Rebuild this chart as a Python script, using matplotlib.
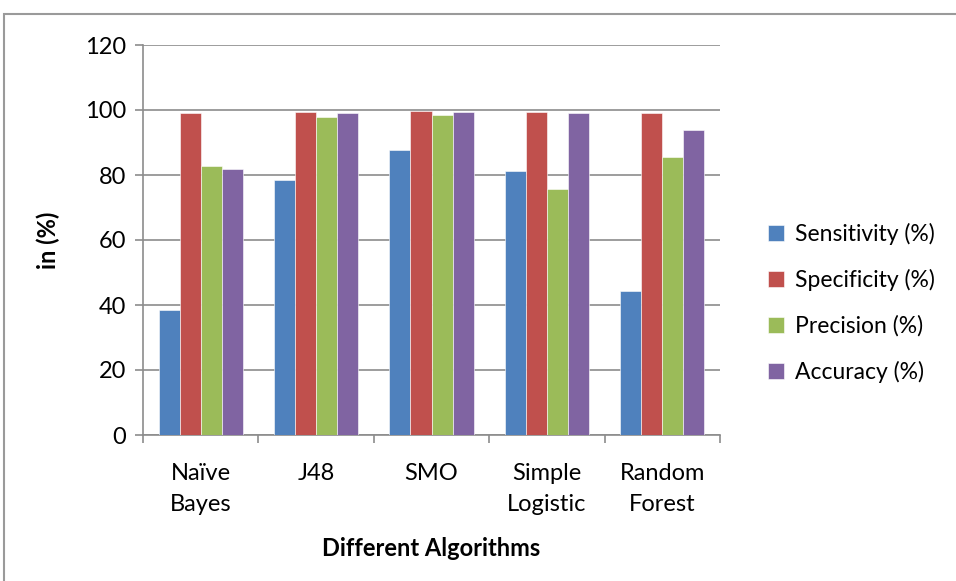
import matplotlib
matplotlib.use('agg')
import matplotlib.pyplot as plt
import numpy as np
from matplotlib.patches import Rectangle

plt.rcParams['font.family'] = ['Lato', 'DejaVu Sans']

algorithms = ["Naïve\nBayes", "J48", "SMO", "Simple\nLogistic", "Random\nForest"]
sensitivity = [38.5, 78.5, 87.7, 81.2, 44.4]
specificity = [99.1, 99.4, 99.6, 99.3, 99.0]
precision = [82.9, 98.0, 98.6, 75.6, 85.6]
accuracy = [81.8, 99.1, 99.4, 99.1, 93.8]

series = [
    ("Sensitivity (%)", sensitivity, "#4F81BD"),
    ("Specificity (%)", specificity, "#C0504D"),
    ("Precision (%)", precision, "#9BBB59"),
    ("Accuracy (%)", accuracy, "#8064A2"),
]

FS = 17

fig = plt.figure(figsize=(9.56, 5.81), dpi=100)
ax = fig.add_axes([143/956, 1-435/581, 577/956, 390/581])

# outer chart frame (cropped on right / bottom like the reference)
fig.patches.append(Rectangle((4/956, -0.1), 1.2, 1-14/581+0.1, transform=fig.transFigure,
                             fill=False, edgecolor="#9a9a9a", linewidth=1.5))

x = np.arange(len(algorithms))
w = 0.182
for i, (name, vals, col) in enumerate(series):
    ax.bar(x + (i - 1.5) * w, vals, w, color=col, label=name,
           edgecolor="white", linewidth=0.4, zorder=3)

ax.set_xlim(-0.5, len(algorithms) - 0.5)
ax.set_ylim(0, 120)
ax.set_yticks(range(0, 121, 20))
ax.grid(axis="y", color="#8c8c8c", linewidth=1.2, zorder=0)
for s in ["top", "right"]:
    ax.spines[s].set_visible(False)
for s in ["left", "bottom"]:
    ax.spines[s].set_color("#8c8c8c")
    ax.spines[s].set_linewidth(1.2)

ax.set_xticks(np.arange(len(algorithms) + 1) - 0.5)
ax.set_xticklabels([])
ax.set_xticks(x, minor=True)
ax.set_xticklabels(algorithms, minor=True, fontsize=FS, linespacing=1.6)
ax.tick_params(axis="x", which="minor", length=0, pad=20)
ax.tick_params(axis="x", which="major", length=6, color="#8c8c8c", width=1.2)
ax.tick_params(axis="y", length=6, color="#8c8c8c", width=1.2, labelsize=FS, pad=6)

ax.set_ylabel("in (%)", fontsize=FS, fontweight="bold", labelpad=18)
ax.set_xlabel("Different Algorithms", fontsize=FS, fontweight="bold", labelpad=16)

fig.legend(loc="center left", bbox_to_anchor=(747/956, 1-303/581), frameon=False,
           fontsize=16.5, handlelength=0.7, handleheight=0.7, labelspacing=1.05,
           handletextpad=0.5)

fig.savefig("out.png", dpi=100)
